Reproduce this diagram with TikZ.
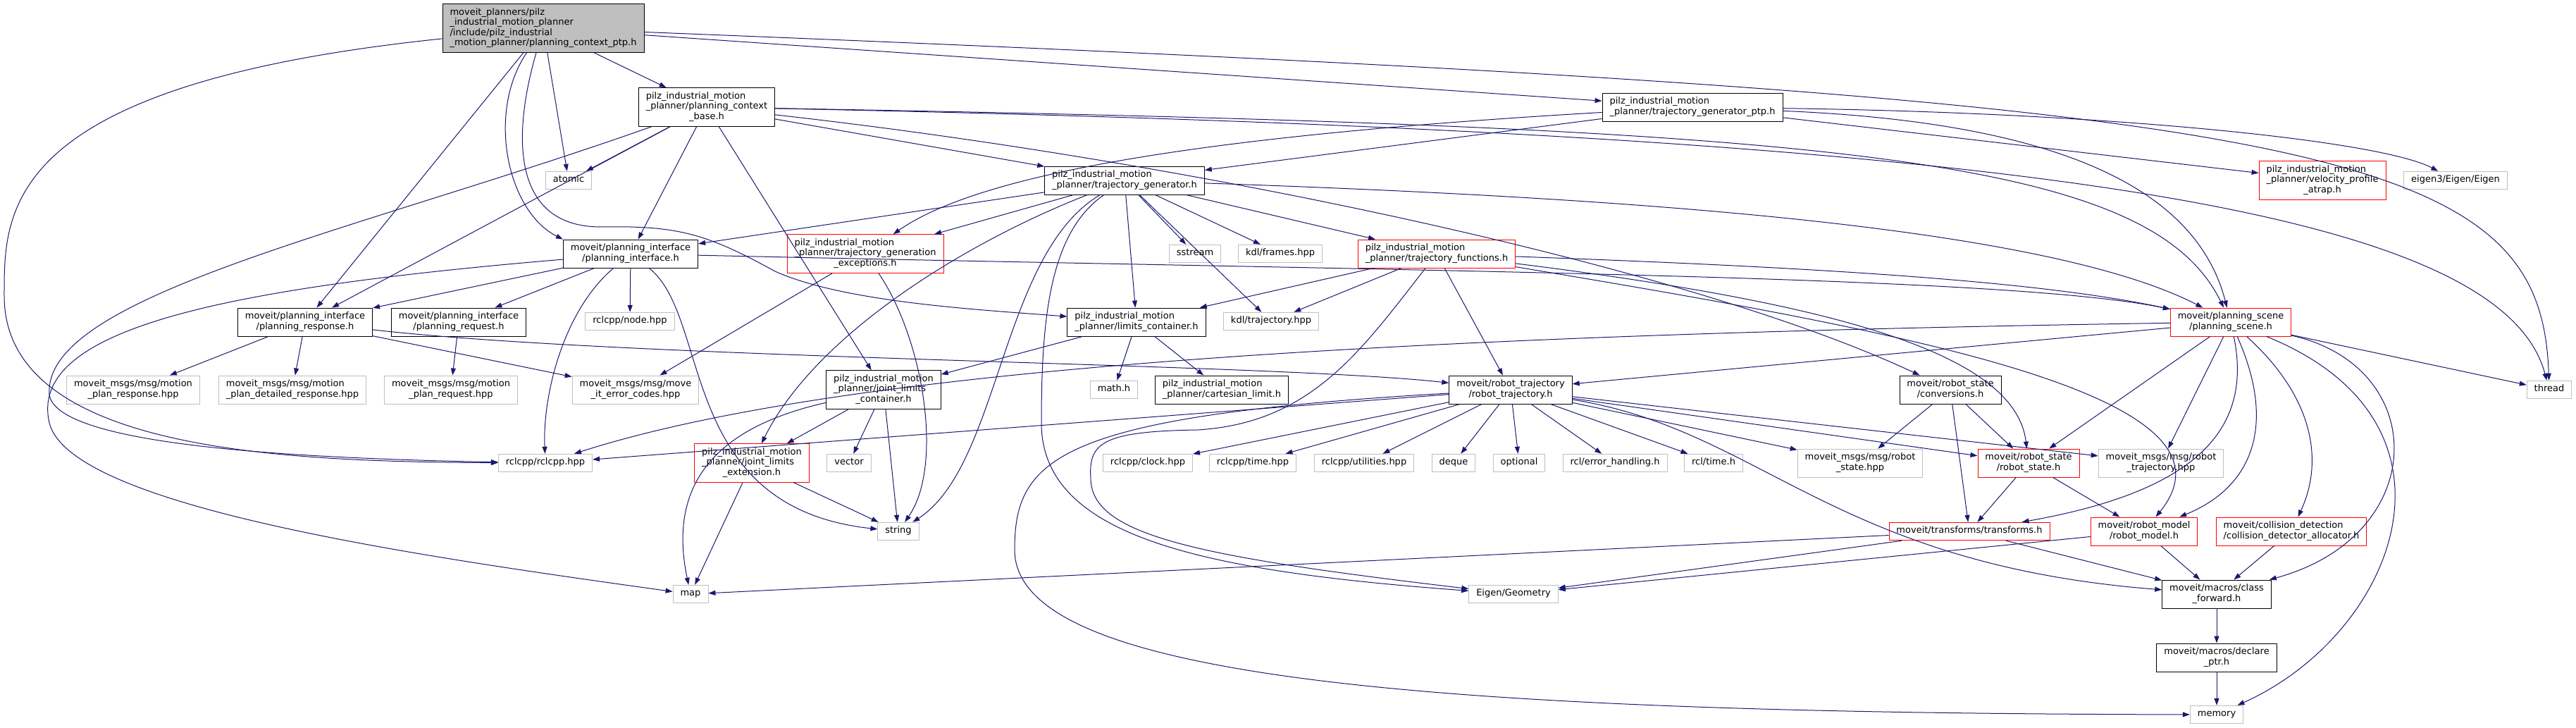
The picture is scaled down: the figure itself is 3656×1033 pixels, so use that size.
\documentclass[tikz,border=0pt]{standalone}
\usepackage{fontspec}
\setmainfont{DejaVu Sans}
\usepackage{tikz}
\usetikzlibrary{arrows.meta}
\definecolor{depblue}{HTML}{191970}
\definecolor{extgray}{HTML}{BFBFBF}
\definecolor{rootgray}{HTML}{BFBFBF}
\newcommand{\onel}[1]{\begin{tabular}{@{}c@{}}#1\end{tabular}}
\newcommand{\twol}[2]{\begin{tabular}{@{}l@{}}#1\\\multicolumn{1}{@{}c@{}}{#2}\end{tabular}}
\newcommand{\threel}[3]{\begin{tabular}{@{}l@{}}#1\\#2\\\multicolumn{1}{@{}c@{}}{#3}\end{tabular}}

\begin{document}
\begin{tikzpicture}[
  x=1pt, y=-1pt,
  file/.style={
    draw=black,
    fill=white,
    line width=0.9pt,
    inner xsep=10.5pt,
    inner ysep=5.5pt,
    font=\fontsize{13}{14.5}\selectfont
  },
  trunc/.style={file,draw=red},
  sysfile/.style={file,draw=extgray},
  rootfile/.style={file,fill=rootgray},
  dep/.style={-{Triangle[length=10pt,width=7pt]},line width=1pt,depblue}
]
\useasboundingbox (0,0) rectangle (3656,1033);

% row 0
\node[rootfile] (R) at (771,40) {\begin{tabular}{@{}l@{}}moveit\_planners/pilz\\\_industrial\_motion\_planner\\/include/pilz\_industrial\\\_motion\_planner/planning\_context\_ptp.h\end{tabular}};
% row 1
\node[file] (base) at (1003,152) {\threel{pilz\_industrial\_motion}{\_planner/planning\_context}{\_base.h}};
\node[file] (ptp) at (2402,152) {\twol{pilz\_industrial\_motion}{\_planner/trajectory\_generator\_ptp.h}};
% row 2
\node[sysfile] (atomic) at (807,256) {\onel{atomic}};
\node[file] (tg) at (1596,256) {\twol{pilz\_industrial\_motion}{\_planner/trajectory\_generator.h}};
\node[trunc] (vel) at (3296,256) {\threel{pilz\_industrial\_motion}{\_planner/velocity\_profile}{\_atrap.h}};
\node[sysfile] (eig3) at (3485,256) {\onel{eigen3/Eigen/Eigen}};
% row 3
\node[file] (pi) at (895,360) {\twol{moveit/planning\_interface}{/planning\_interface.h}};
\node[trunc] (exc) at (1228,360) {\threel{pilz\_industrial\_motion}{\_planner/trajectory\_generation}{\_exceptions.h}};
\node[sysfile] (sstream) at (1696,360) {\onel{sstream}};
\node[sysfile] (kdlfr) at (1817,360) {\onel{kdl/frames.hpp}};
\node[trunc] (tf) at (2039,360) {\twol{pilz\_industrial\_motion}{\_planner/trajectory\_functions.h}};
% row 4
\node[file] (resp) at (433,457) {\twol{moveit/planning\_interface}{/planning\_response.h}};
\node[file] (req) at (651,457) {\twol{moveit/planning\_interface}{/planning\_request.h}};
\node[sysfile] (node) at (894,456) {\onel{rclcpp/node.hpp}};
\node[file] (limits) at (1613,457) {\twol{pilz\_industrial\_motion}{\_planner/limits\_container.h}};
\node[sysfile] (kdltr) at (1804,456) {\onel{kdl/trajectory.hpp}};
\node[trunc] (ps) at (3166,457) {\twol{moveit/planning\_scene}{/planning\_scene.h}};
% row 5
\node[sysfile] (mpresp) at (189,553) {\twol{moveit\_msgs/msg/motion}{\_plan\_response.hpp}};
\node[sysfile] (mpdet) at (415,553) {\twol{moveit\_msgs/msg/motion}{\_plan\_detailed\_response.hpp}};
\node[sysfile] (mpreq) at (640,553) {\twol{moveit\_msgs/msg/motion}{\_plan\_request.hpp}};
\node[sysfile] (errc) at (902,553) {\twol{moveit\_msgs/msg/move}{\_it\_error\_codes.hpp}};
\node[file] (jlc) at (1254,553) {\threel{pilz\_industrial\_motion}{\_planner/joint\_limits}{\_container.h}};
\node[sysfile] (math) at (1581,553) {\onel{math.h}};
\node[file] (cart) at (1734,553) {\twol{pilz\_industrial\_motion}{\_planner/cartesian\_limit.h}};
\node[file] (rt) at (2144,553) {\twol{moveit/robot\_trajectory}{/robot\_trajectory.h}};
\node[file] (conv) at (2768,553) {\twol{moveit/robot\_state}{/conversions.h}};
\node[sysfile] (thread) at (3618,553) {\onel{thread}};
% row 6
\node[sysfile] (rclcpp) at (774,657) {\onel{rclcpp/rclcpp.hpp}};
\node[trunc] (jlext) at (1067,657) {\threel{pilz\_industrial\_motion}{\_planner/joint\_limits}{\_extension.h}};
\node[sysfile] (vector) at (1205,657) {\onel{vector}};
\node[sysfile] (clock) at (1629,657) {\onel{rclcpp/clock.hpp}};
\node[sysfile] (timehpp) at (1778,657) {\onel{rclcpp/time.hpp}};
\node[sysfile] (util) at (1936,657) {\onel{rclcpp/utilities.hpp}};
\node[sysfile] (deque) at (2063,657) {\onel{deque}};
\node[sysfile] (optional) at (2156,657) {\onel{optional}};
\node[sysfile] (rclerr) at (2292,657) {\onel{rcl/error\_handling.h}};
\node[sysfile] (rcltime) at (2432,657) {\onel{rcl/time.h}};
\node[sysfile] (rsmsg) at (2640,657) {\twol{moveit\_msgs/msg/robot}{\_state.hpp}};
\node[trunc] (rs) at (2879,657) {\twol{moveit/robot\_state}{/robot\_state.h}};
\node[sysfile] (rtmsg) at (3067,657) {\twol{moveit\_msgs/msg/robot}{\_trajectory.hpp}};
% row 7
\node[sysfile] (string) at (1275,754) {\onel{string}};
\node[trunc] (tfm) at (2795,754) {\onel{moveit/transforms/transforms.h}};
\node[trunc] (rm) at (3043,754) {\twol{moveit/robot\_model}{/robot\_model.h}};
\node[trunc] (coll) at (3252,754) {\twol{moveit/collision\_detection}{/collision\_detector\_allocator.h}};
% row 8
\node[sysfile] (map) at (980,843) {\onel{map}};
\node[sysfile] (eigeo) at (2148,843) {\onel{Eigen/Geometry}};
\node[file] (cf) at (3146,843) {\twol{moveit/macros/class}{\_forward.h}};
\node[file] (dp) at (3146,933) {\twol{moveit/macros/declare}{\_ptr.h}};
\node[sysfile] (memory) at (3146,1014) {\onel{memory}};

% planning_context_ptp.h
\draw[dep] (R) -- (base);
\draw[dep] (R) -- (ptp);
\draw[dep] (R) -- (atomic);
\draw[dep] (R) -- (resp);
\draw[dep] (R) .. controls (690,160) and (720,300) .. (pi.north west);
\draw[dep] (R) .. controls (725,200) and (730,320) .. (850,322) .. controls (960,320) and (1000,330) .. (1100,385) .. controls (1200,430) and (1400,440) .. (limits);
\draw[dep] (R) .. controls (3300,140) and (3606,200) .. (thread);
\draw[dep] (R) .. controls (0,120) and (6,300) .. (6,420) .. controls (6,640) and (400,655) .. (rclcpp);
% planning_context_base.h
\draw[dep] (base) -- (atomic);
\draw[dep] (base) -- (pi);
\draw[dep] (base) -- (resp);
\draw[dep] (base) -- (jlc);
\draw[dep] (base) -- (tg);
\draw[dep] (base) .. controls (500,330) and (60,420) .. (70,560) .. controls (80,630) and (400,650) .. (rclcpp);
\draw[dep] (base) .. controls (1700,230) and (2400,380) .. (conv);
\draw[dep] (base) .. controls (2600,180) and (3050,220) .. (ps);
\draw[dep] (base) .. controls (2900,190) and (3550,300) .. (thread);
% trajectory_generator_ptp.h
\draw[dep] (ptp) -- (tg);
\draw[dep] (ptp) -- (vel);
\draw[dep] (ptp) .. controls (1750,190) and (1400,240) .. (exc);
\draw[dep] (ptp) .. controls (3000,160) and (3380,200) .. (eig3);
\draw[dep] (ptp) .. controls (2950,175) and (3120,280) .. (ps);
% trajectory_generator.h
\draw[dep] (tg) -- (pi);
\draw[dep] (tg) -- (exc);
\draw[dep] (tg) -- (limits);
\draw[dep] (tg) -- (kdltr);
\draw[dep] (tg) -- (sstream);
\draw[dep] (tg) -- (kdlfr);
\draw[dep] (tg) -- (tf);
\draw[dep] (tg) .. controls (1380,340) and (1160,470) .. (jlext);
\draw[dep] (tg) .. controls (1420,360) and (1420,660) .. (string);
\draw[dep] (tg) .. controls (1490,330) and (1478,450) .. (1478,600) .. controls (1478,760) and (1700,810) .. (eigeo);
\draw[dep] (tg) .. controls (2300,280) and (2900,320) .. (ps);
% trajectory_functions.h
\draw[dep] (tf) -- (limits);
\draw[dep] (tf) -- (kdltr);
\draw[dep] (tf) -- (rt);
\draw[dep] (tf) .. controls (1930,500) and (1860,600) .. (1700,610) .. controls (1560,612) and (1545,630) .. (1548,680) .. controls (1550,760) and (1700,790) .. (eigeo);
\draw[dep] (tf) .. controls (2600,380) and (2900,400) .. (ps);
\draw[dep] (tf) .. controls (2600,430) and (2860,500) .. (rs);
\draw[dep] (tf) .. controls (2700,470) and (3200,560) .. (rm);
% limits and joint limits
\draw[dep] (limits) -- (jlc);
\draw[dep] (limits) -- (math);
\draw[dep] (limits) -- (cart);
\draw[dep] (jlc) -- (jlext);
\draw[dep] (jlc) -- (vector);
\draw[dep] (jlc) -- (string);
\draw[dep] (jlc) .. controls (1000,610) and (950,700) .. (map);
\draw[dep] (jlext) -- (map);
\draw[dep] (jlext) -- (string);
\draw[dep] (exc) -- (errc);
\draw[dep] (exc) .. controls (1310,480) and (1340,660) .. (string);
% planning_interface.h
\draw[dep] (pi) -- (resp);
\draw[dep] (pi) -- (req);
\draw[dep] (pi) -- (node);
\draw[dep] (pi) .. controls (800,440) and (770,560) .. (rclcpp);
\draw[dep] (pi) .. controls (1010,450) and (960,720) .. (string);
\draw[dep] (pi) .. controls (300,410) and (40,470) .. (70,600) .. controls (100,720) and (600,790) .. (map);
\draw[dep] (pi) .. controls (2000,385) and (2850,390) .. (ps);
% planning_response.h, planning_request.h
\draw[dep] (resp) -- (mpresp);
\draw[dep] (resp) -- (mpdet);
\draw[dep] (resp) -- (errc);
\draw[dep] (resp) .. controls (900,510) and (1800,515) .. (rt);
\draw[dep] (req) -- (mpreq);
% planning_scene.h
\draw[dep] (ps) -- (rt);
\draw[dep] (ps) -- (thread);
\draw[dep] (ps) -- (rs);
\draw[dep] (ps) -- (rtmsg);
\draw[dep] (ps) .. controls (2000,475) and (1200,520) .. (rclcpp);
\draw[dep] (ps) .. controls (3230,600) and (3200,690) .. (rm);
\draw[dep] (ps) .. controls (3200,620) and (3100,700) .. (tfm);
\draw[dep] (ps) .. controls (3280,560) and (3300,650) .. (coll);
\draw[dep] (ps) .. controls (3450,520) and (3450,760) .. (cf);
\draw[dep] (ps) .. controls (3520,600) and (3400,900) .. (memory);
% robot_trajectory.h
\draw[dep] (rt) -- (rclcpp);
\draw[dep] (rt) -- (clock);
\draw[dep] (rt) -- (timehpp);
\draw[dep] (rt) -- (util);
\draw[dep] (rt) -- (deque);
\draw[dep] (rt) -- (optional);
\draw[dep] (rt) -- (rclerr);
\draw[dep] (rt) -- (rcltime);
\draw[dep] (rt) -- (rsmsg);
\draw[dep] (rt) -- (rs);
\draw[dep] (rt) -- (rtmsg);
\draw[dep] (rt) .. controls (2500,610) and (2600,800) .. (cf);
\draw[dep] (rt) .. controls (1500,590) and (1440,650) .. (1440,780) .. controls (1440,960) and (2000,1012) .. (memory);
% robot state, transforms, model
\draw[dep] (conv) -- (rsmsg);
\draw[dep] (conv) -- (rs);
\draw[dep] (conv) -- (tfm);
\draw[dep] (rs) -- (tfm);
\draw[dep] (rs) -- (rm);
\draw[dep] (tfm) -- (map);
\draw[dep] (tfm) -- (eigeo);
\draw[dep] (tfm) -- (cf);
\draw[dep] (rm) -- (eigeo);
\draw[dep] (rm) -- (cf);
\draw[dep] (coll) -- (cf);
\draw[dep] (cf) -- (dp);
\draw[dep] (dp) -- (memory);
\end{tikzpicture}
\end{document}
